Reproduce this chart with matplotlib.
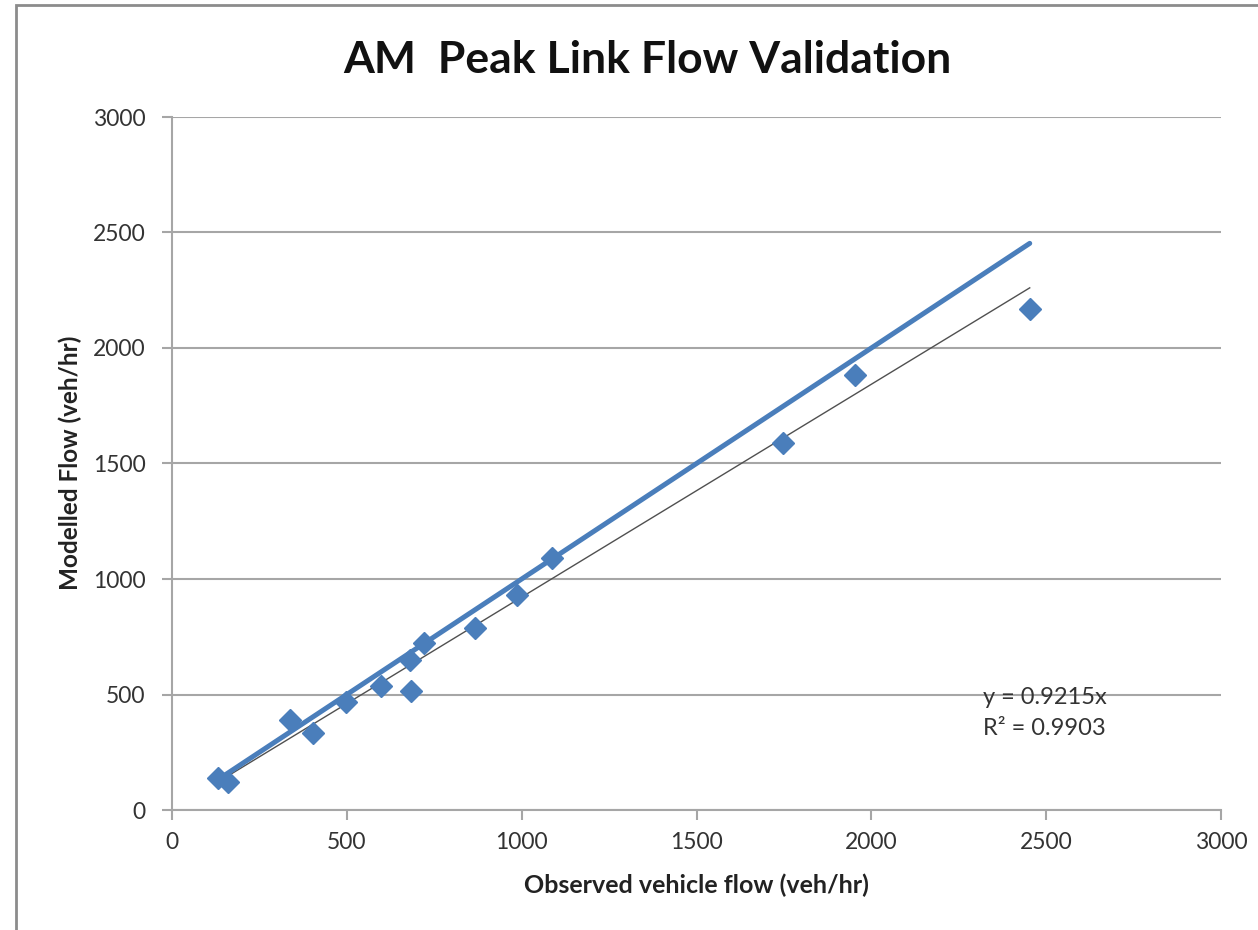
import matplotlib
matplotlib.use("Agg")
import matplotlib.pyplot as plt
import numpy as np
from matplotlib.patches import Rectangle

plt.rcParams['font.family'] = ['Lato', 'DejaVu Sans']

# Data
observed = [132, 160, 338, 404, 498, 598, 681, 684, 720, 867, 988, 1088, 1746, 1952, 2453]
modelled = [138, 121, 390, 333, 468, 537, 649, 515, 725, 788, 931, 1091, 1589, 1883, 2169]
slope = 0.9215
r2 = 0.9903
title = "AM  Peak Link Flow Validation"
xlabel = "Observed vehicle flow (veh/hr)"
ylabel = "Modelled Flow (veh/hr)"
ticks = [0, 500, 1000, 1500, 2000, 2500, 3000]

blue = "#4A7EBB"
grid_c = "#A6A6A6"

fig = plt.figure(figsize=(12.58, 9.30), dpi=100)
fig.patch.set_facecolor("white")
# outer chart border
fig.patches.append(Rectangle((16/1258, -0.1), 1.2, 1 - 5/930 + 0.1, transform=fig.transFigure,
                             fill=False, edgecolor="#8C8C8C", linewidth=2.0, zorder=0))

ax = fig.add_axes([172/1258, 1 - 810/930, (1221 - 172)/1258, (810 - 117)/930])

obs_sorted = np.sort(observed)
# 1:1 line (thick blue)
ax.plot(obs_sorted, obs_sorted, color=blue, linewidth=3.6, solid_capstyle='round', zorder=3)
# linear trend through origin (thin dark line)
trend_x = np.array([min(observed), max(observed)])
ax.plot(trend_x, slope * trend_x, color="#505050", linewidth=1.0, zorder=2)
# points
ax.plot(observed, modelled, linestyle='none', marker='D', markersize=11.5,
        markerfacecolor=blue, markeredgecolor=blue, zorder=4)

ax.set_xlim(0, 3000)
ax.set_ylim(0, 3000)
ax.set_xticks(ticks)
ax.set_yticks(ticks)
ax.set_xticklabels([str(t) for t in ticks])
ax.set_yticklabels([str(t) for t in ticks])
ax.yaxis.grid(True, color=grid_c, linewidth=1.5)
ax.set_axisbelow(True)
for s in ['top', 'right']:
    ax.spines[s].set_visible(False)
for s in ['left', 'bottom']:
    ax.spines[s].set_color(grid_c)
    ax.spines[s].set_linewidth(1.5)
ax.tick_params(axis='both', colors=grid_c, length=7, width=1.5, labelsize=16.5,
               labelcolor="#333333")
ax.tick_params(axis='y', pad=12)
ax.tick_params(axis='x', pad=9)

fig.text(696/1258, 1 - 885/930, xlabel, ha='center', va='center', fontsize=18,
         fontweight='bold', color="#222222")
fig.text(70/1258, 1 - 463/930, ylabel, ha='center', va='center', rotation=90,
         fontsize=17.5, fontweight='bold', color="#222222")

fig.text(647/1258, 1 - 60/930, title, ha='center', va='center', fontsize=32,
         fontweight='bold', color="#111111")

fig.text(983/1258, 1 - 698/930, "y = 0.9215x", ha='left', va='center', fontsize=17, color="#333333")
fig.text(983/1258, 1 - 728/930, "R² = 0.9903", ha='left', va='center', fontsize=17, color="#333333")

fig.savefig("out.png", dpi=100, facecolor="white")
